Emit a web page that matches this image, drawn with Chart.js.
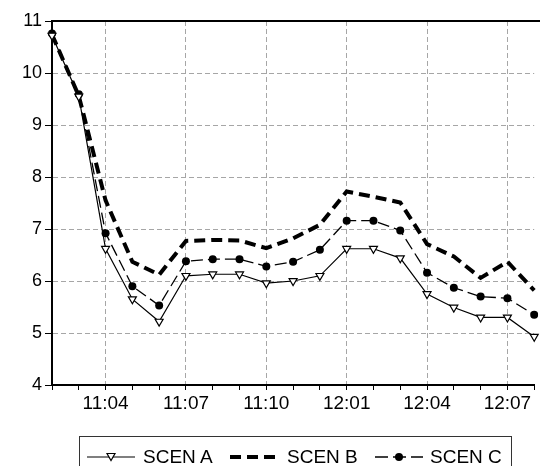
<!DOCTYPE html>
<html>
<head>
<meta charset="utf-8">
<script src="https://cdn.jsdelivr.net/npm/chart.js@4.4.0/dist/chart.umd.min.js"></script>
<style>
  html, body { margin:0; padding:0; background:#fff; width:540px; height:466px; overflow:hidden; }
  #wrap { position:relative; width:540px; height:466px; font-family:"Liberation Sans", Arial, sans-serif; }
  canvas { position:absolute; left:0; top:0; }
  #legend { position:absolute; left:79px; top:436px; width:433px; height:44px; border:1px solid #333; box-sizing:border-box; }
  .lt { position:absolute; top:447px; font-size:19px; line-height:20px; color:#000; white-space:nowrap; }
  #lsvg { position:absolute; left:0; top:0; }
</style>
</head>
<body>
<div id="wrap">
  <canvas id="c" width="540" height="466"></canvas>
  <div id="legend"></div>
  <svg id="lsvg" width="540" height="480" xmlns="http://www.w3.org/2000/svg">
    <line x1="87" y1="457" x2="135" y2="457" stroke="#000" stroke-width="1.2"/>
    <polygon points="107,453.5 115,453.5 111,460.5" fill="#fff" stroke="#000" stroke-width="1.2"/>
    <line x1="230" y1="457" x2="277" y2="457" stroke="#000" stroke-width="4" stroke-dasharray="11,6"/>
    <line x1="375" y1="457" x2="423" y2="457" stroke="#000" stroke-width="1.3" stroke-dasharray="13,5"/>
    <circle cx="399" cy="457" r="4" fill="#000"/>
  </svg>
  <div class="lt" style="left:143px;">SCEN A</div>
  <div class="lt" style="left:287px;">SCEN B</div>
  <div class="lt" style="left:430px;">SCEN C</div>
</div>
<script>
const categories = ['11:02','11:03','11:04','11:05','11:06','11:07','11:08','11:09','11:10','11:11','11:12',
                    '12:01','12:02','12:03','12:04','12:05','12:06','12:07','12:08'];
const shownTickLabels = ['11:04','11:07','11:10','12:01','12:04','12:07'];
const scenA = [10.72, 9.55, 6.62, 5.65, 5.22, 6.10, 6.13, 6.13, 5.96, 6.00, 6.10, 6.62, 6.62, 6.44, 5.75, 5.49, 5.30, 5.30, 4.93];
const scenB = [10.74, 9.56, 7.55, 6.37, 6.12, 6.77, 6.79, 6.78, 6.63, 6.82, 7.08, 7.72, 7.62, 7.51, 6.71, 6.47, 6.06, 6.37, 5.82];
const scenC = [10.76, 9.59, 6.92, 5.90, 5.53, 6.38, 6.42, 6.42, 6.28, 6.37, 6.60, 7.16, 7.16, 6.97, 6.16, 5.87, 5.70, 5.67, 5.35];
const yTicks = [4, 5, 6, 7, 8, 9, 10, 11];

const frameTop = {
  id: 'frameTop',
  afterDraw(chart) {
    const {ctx, chartArea} = chart;
    ctx.save();
    ctx.strokeStyle = '#000';
    ctx.lineWidth = 2;
    ctx.beginPath();
    ctx.moveTo(chartArea.left - 1, chartArea.top);
    ctx.lineTo(chart.width, chartArea.top);
    ctx.stroke();
    ctx.restore();
  }
};

const font = { family: '"Liberation Sans", Arial, sans-serif', size: 18 };

new Chart(document.getElementById('c'), {
  type: 'line',
  data: {
    labels: categories,
    datasets: [
      { label: 'SCEN A', data: scenA, borderColor: '#000', borderWidth: 1.2, tension: 0,
        pointStyle: 'triangle', rotation: 180, pointRadius: 4.6, pointBackgroundColor: '#fff',
        pointBorderColor: '#000', pointBorderWidth: 1.2 },
      { label: 'SCEN B', data: scenB, borderColor: '#000', borderWidth: 4, borderDash: [11, 6], tension: 0,
        pointRadius: 0 },
      { label: 'SCEN C', data: scenC, borderColor: '#000', borderWidth: 1.3, borderDash: [12, 5], tension: 0,
        pointStyle: 'circle', pointRadius: 4, pointBackgroundColor: '#000', pointBorderColor: '#000', pointBorderWidth: 0 }
    ]
  },
  options: {
    responsive: false,
    animation: false,
    layout: { padding: { left: 0, top: 21, right: 1, bottom: 51 } },
    plugins: { legend: { display: false }, tooltip: { enabled: false } },
    scales: {
      x: {
        offset: false,
        afterFit(s) { s.height = 30; },
        grid: {
          color: (c) => (c.tick && shownTickLabels.includes(categories[c.index])) ? '#a6a6a6' : 'rgba(0,0,0,0)',
          lineWidth: 1,
          tickColor: '#000',
          tickLength: 5,
          tickWidth: 1,
          tickBorderDash: []
        },
        border: { display: true, color: '#000', width: 2, dash: [5, 3] },
        ticks: {
          autoSkip: false, maxRotation: 0, padding: 2, color: '#000',
          font: { family: font.family, size: 19 },
          callback: (v, i) => shownTickLabels.includes(categories[i]) ? categories[i] : ''
        }
      },
      y: {
        min: yTicks[0], max: yTicks[yTicks.length - 1],
        afterFit(s) { s.width = 52; },
        afterBuildTicks(s) { s.ticks = yTicks.map(v => ({ value: v })); },
        grid: {
          color: (c) => (c.tick && c.tick.value > yTicks[0] && c.tick.value < yTicks[yTicks.length - 1]) ? '#a6a6a6' : 'rgba(0,0,0,0)',
          lineWidth: 1,
          tickColor: '#000',
          tickLength: 7,
          tickWidth: 1,
          tickBorderDash: []
        },
        border: { display: true, color: '#000', width: 2, dash: [5, 3] },
        ticks: { padding: 3, color: '#000', font: font }
      }
    }
  },
  plugins: [frameTop]
});
</script>
</body>
</html>
